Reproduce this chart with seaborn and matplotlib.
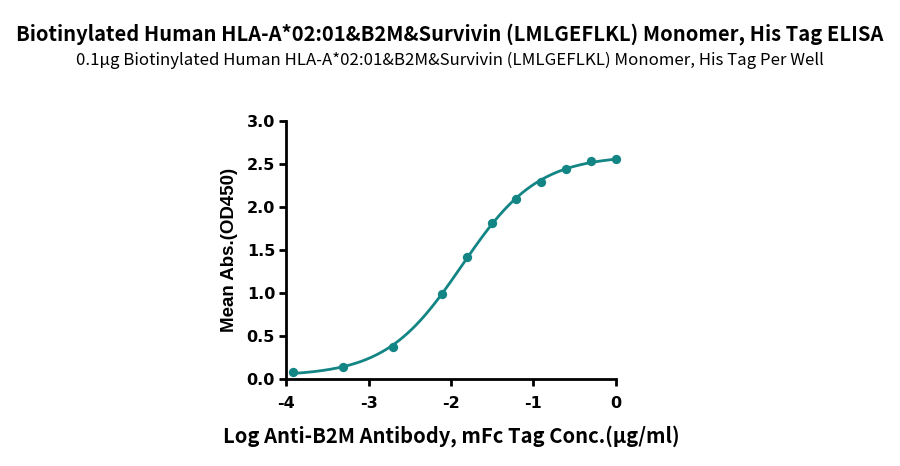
import numpy as np
import pandas as pd
import matplotlib
matplotlib.use("Agg")
import matplotlib.pyplot as plt
import seaborn as sns

# valores
log_conc = [-3.913, -3.311, -2.709, -2.107, -1.806, -1.505, -1.204, -0.903, -0.602, -0.301, 0.0]
mean_abs = [0.081, 0.143, 0.379, 0.990, 1.420, 1.810, 2.090, 2.290, 2.440, 2.530, 2.560]

x_ticks = [-4, -3, -2, -1, 0]
y_ticks = [0.0, 0.5, 1.0, 1.5, 2.0, 2.5, 3.0]

titulo = "Biotinylated Human HLA-A*02:01&B2M&Survivin (LMLGEFLKL) Monomer, His Tag ELISA"
subtitulo = "0.1μg Biotinylated Human HLA-A*02:01&B2M&Survivin (LMLGEFLKL) Monomer, His Tag Per Well"
x_label = "Log Anti-B2M Antibody, mFc Tag Conc.(μg/ml)"
y_label = "Mean Abs.(OD450)"

cor = "#138585"

sns.set_theme(style="ticks")
plt.rcParams['font.family'] = ['Noto Sans CJK SC', 'DejaVu Sans']
plt.rcParams['text.color'] = 'black'
plt.rcParams['axes.labelcolor'] = 'black'
plt.rcParams['xtick.color'] = 'black'
plt.rcParams['ytick.color'] = 'black'


def logistica4(x, p):
    bottom, top, logec50, hill = p
    return bottom + (top - bottom) / (1 + 10 ** ((logec50 - x) * hill))


def ajustar_4pl(x, y):
    # Gauss-Newton simples com jacobiano numérico
    p = np.array([0.05, 2.6, -1.9, 1.0])
    for _ in range(200):
        r = y - logistica4(x, p)
        J = np.zeros((len(x), 4))
        for i in range(4):
            dp = np.zeros(4)
            dp[i] = 1e-6
            J[:, i] = (logistica4(x, p + dp) - logistica4(x, p - dp)) / 2e-6
        passo, *_ = np.linalg.lstsq(J, r, rcond=None)
        p = p + 0.5 * passo
    return p


df = pd.DataFrame({"log_conc": log_conc, "mean_abs": mean_abs})
params = ajustar_4pl(df["log_conc"].to_numpy(), df["mean_abs"].to_numpy())

x_fit = np.linspace(df["log_conc"].min(), df["log_conc"].max(), 300)
df_fit = pd.DataFrame({"log_conc": x_fit, "mean_abs": logistica4(x_fit, params)})

fig = plt.figure(figsize=(9, 4.66), dpi=100)
ax = fig.add_axes([0.318, 0.186, 0.366, 0.555])

sns.lineplot(data=df_fit, x="log_conc", y="mean_abs", ax=ax, color=cor, linewidth=2)
sns.scatterplot(data=df, x="log_conc", y="mean_abs", ax=ax, color=cor, s=45,
                edgecolor=cor, linewidth=0, zorder=3, clip_on=False)

ax.set_xlim(-4, 0)
ax.set_ylim(0, 3.0)
ax.set_xticks(x_ticks)
ax.set_yticks(y_ticks)
ax.set_xticklabels([str(t) for t in x_ticks], fontsize=11.5, fontweight='bold', family='DejaVu Sans')
ax.set_yticklabels([f"{t:.1f}" for t in y_ticks], fontsize=11.5, fontweight='bold', family='DejaVu Sans')

for s in ["top", "right"]:
    ax.spines[s].set_visible(False)
for s in ["left", "bottom"]:
    ax.spines[s].set_linewidth(2)
    ax.spines[s].set_color("black")
ax.tick_params(width=2, length=5, color="black", direction="out")
ax.tick_params(axis='x', pad=7)
ax.tick_params(axis='y', pad=3)

ax.set_xlabel(x_label, fontsize=14.5, fontweight='bold', labelpad=10)
ax.set_ylabel(y_label, fontsize=13.5, fontweight='bold', family=['Liberation Sans', 'DejaVu Sans'], labelpad=6)

fig.text(0.5, 0.928, titulo, ha='center', va='center', fontsize=14.5, fontweight='bold')
fig.text(0.5, 0.871, subtitulo, ha='center', va='center', fontsize=12.1)

plt.savefig("out.png", dpi=100)
plt.close()
